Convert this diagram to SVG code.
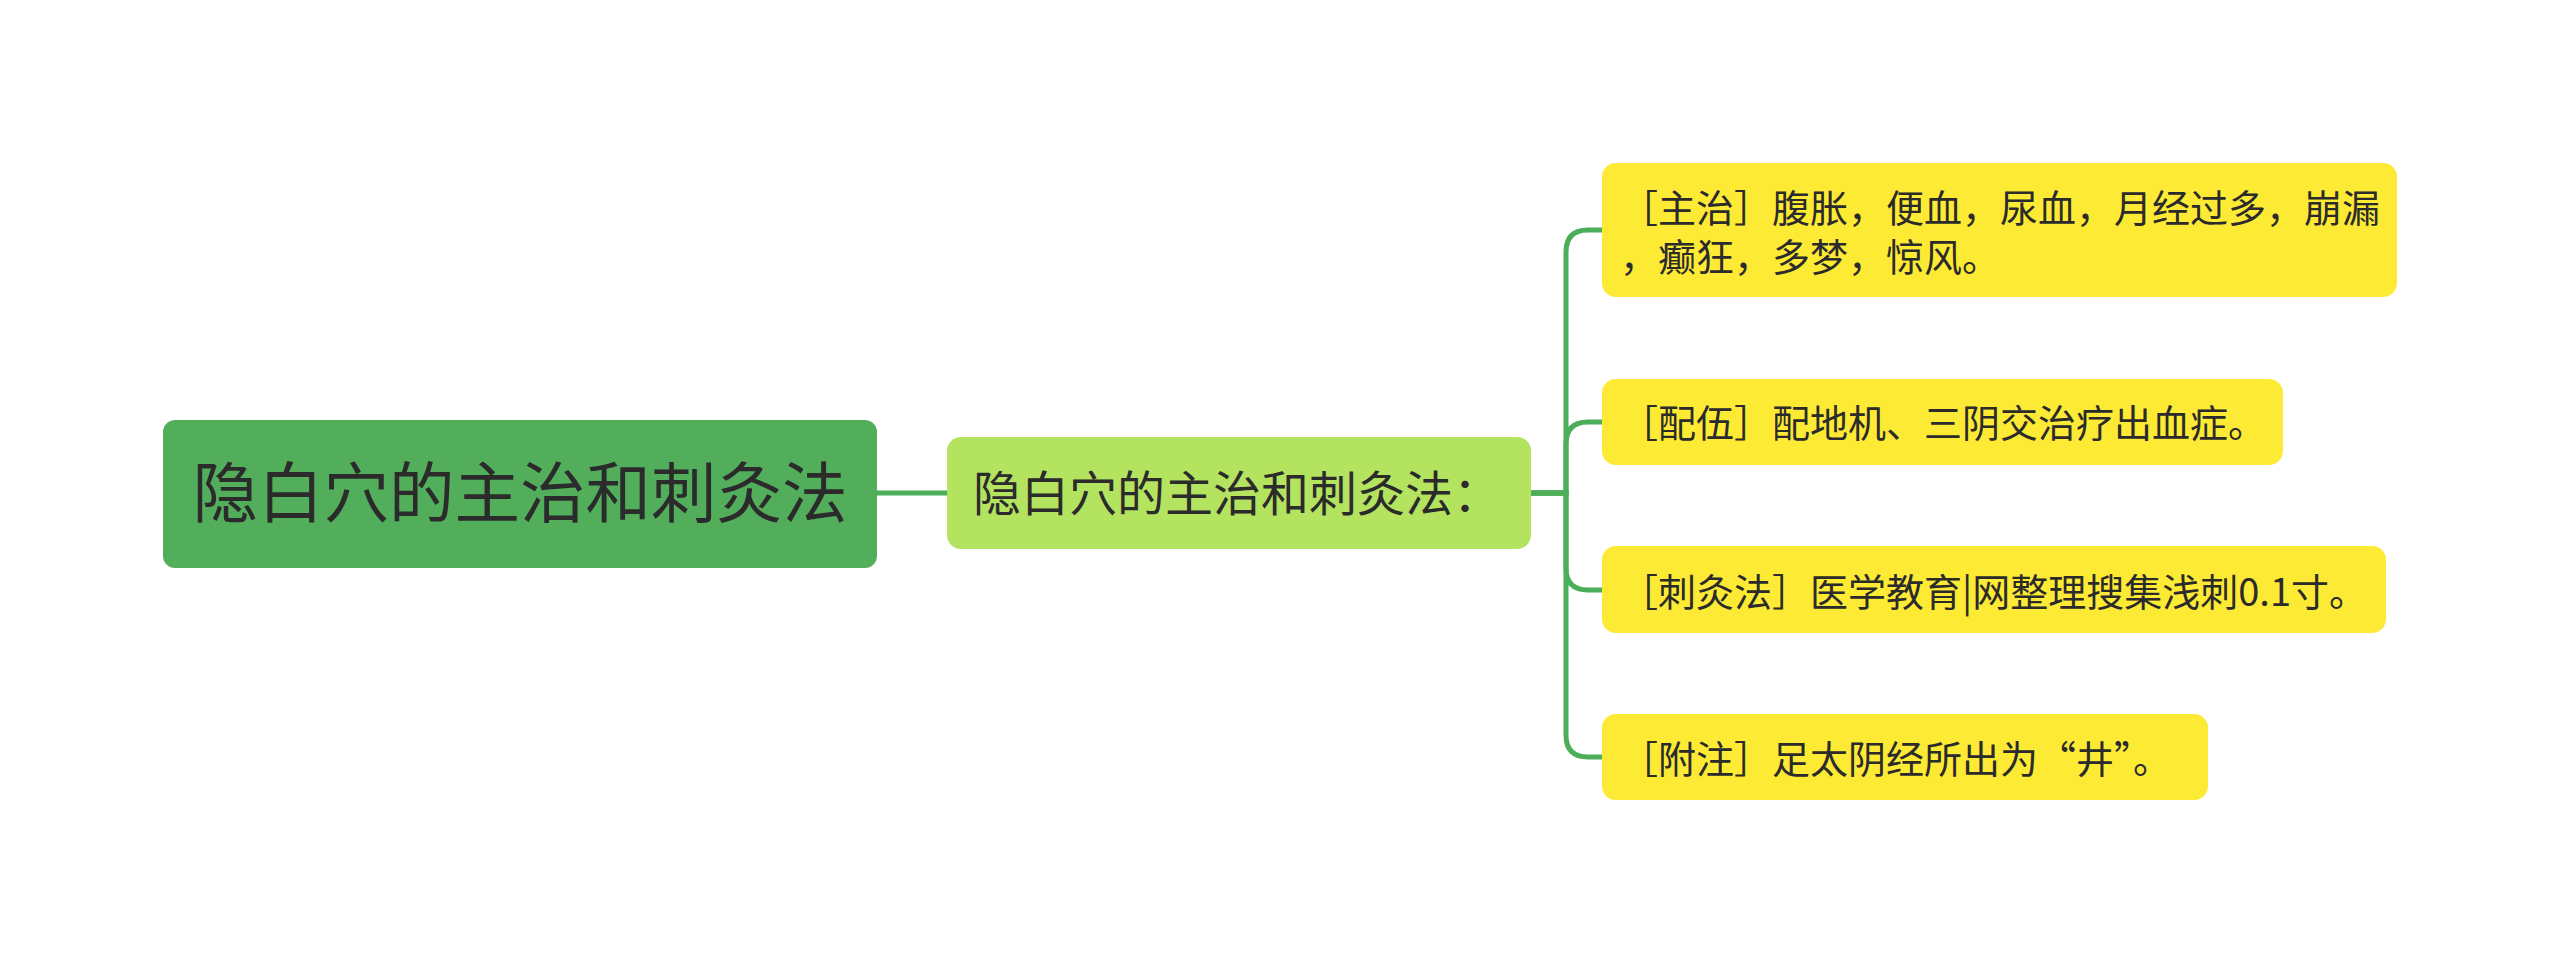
<svg xmlns="http://www.w3.org/2000/svg" width="2560" height="963" viewBox="0 0 2560 963">
<style>
text{font-family:"Noto Sans CJK SC","Noto Sans",sans-serif;fill:#2b2b2b;}
.root{font-size:65.5px;}
.mid{font-size:48px;}
.leaf{font-size:38px;}
.conn{fill:none;stroke:#4cae59;stroke-width:5;stroke-linecap:round;}
</style>
<rect width="2560" height="963" fill="#ffffff"/>
<g id="connectors">
<path class="conn" d="M877 493 H947"/>
<path class="conn" d="M1531 493 H1566 V252 Q1566 230 1588 230 H1602"/>
<path class="conn" d="M1531 493 H1566 V444 Q1566 422 1588 422 H1602"/>
<path class="conn" d="M1531 493 H1566 V568 Q1566 590 1588 590 H1602"/>
<path class="conn" d="M1531 493 H1566 V735 Q1566 757 1588 757 H1602"/>
</g>
<g id="root">
<rect x="163" y="420" width="714" height="148" rx="12" fill="#52ae5b"/>
<text class="root" x="520" y="517" text-anchor="middle">隐白穴的主治和刺灸法</text>
</g>
<g id="middle">
<rect x="947" y="437" width="584" height="112" rx="14" fill="#b3e35f"/>
<text class="mid" x="973" y="511">隐白穴的主治和刺灸法：</text>
</g>
<g id="leaf1">
<rect x="1602" y="163" width="795" height="134" rx="14" fill="#fdea35"/>
<text class="leaf" x="1620" y="222">［主治］腹胀，便血，尿血，月经过多，崩漏</text>
<text class="leaf" x="1620" y="271">，癫狂，多梦，惊风。</text>
</g>
<g id="leaf2">
<rect x="1602" y="379" width="681" height="86" rx="14" fill="#fdea35"/>
<text class="leaf" x="1620" y="437">［配伍］配地机、三阴交治疗出血症。</text>
</g>
<g id="leaf3">
<rect x="1602" y="546" width="784" height="87" rx="14" fill="#fdea35"/>
<text class="leaf" x="1620" y="606">［刺灸法］医学教育|网整理搜集浅刺0.1寸。</text>
</g>
<g id="leaf4">
<rect x="1602" y="714" width="606" height="86" rx="14" fill="#fdea35"/>
<text class="leaf" x="1620" y="773">［附注］足太阴经所出为“井”。</text>
</g>
</svg>
